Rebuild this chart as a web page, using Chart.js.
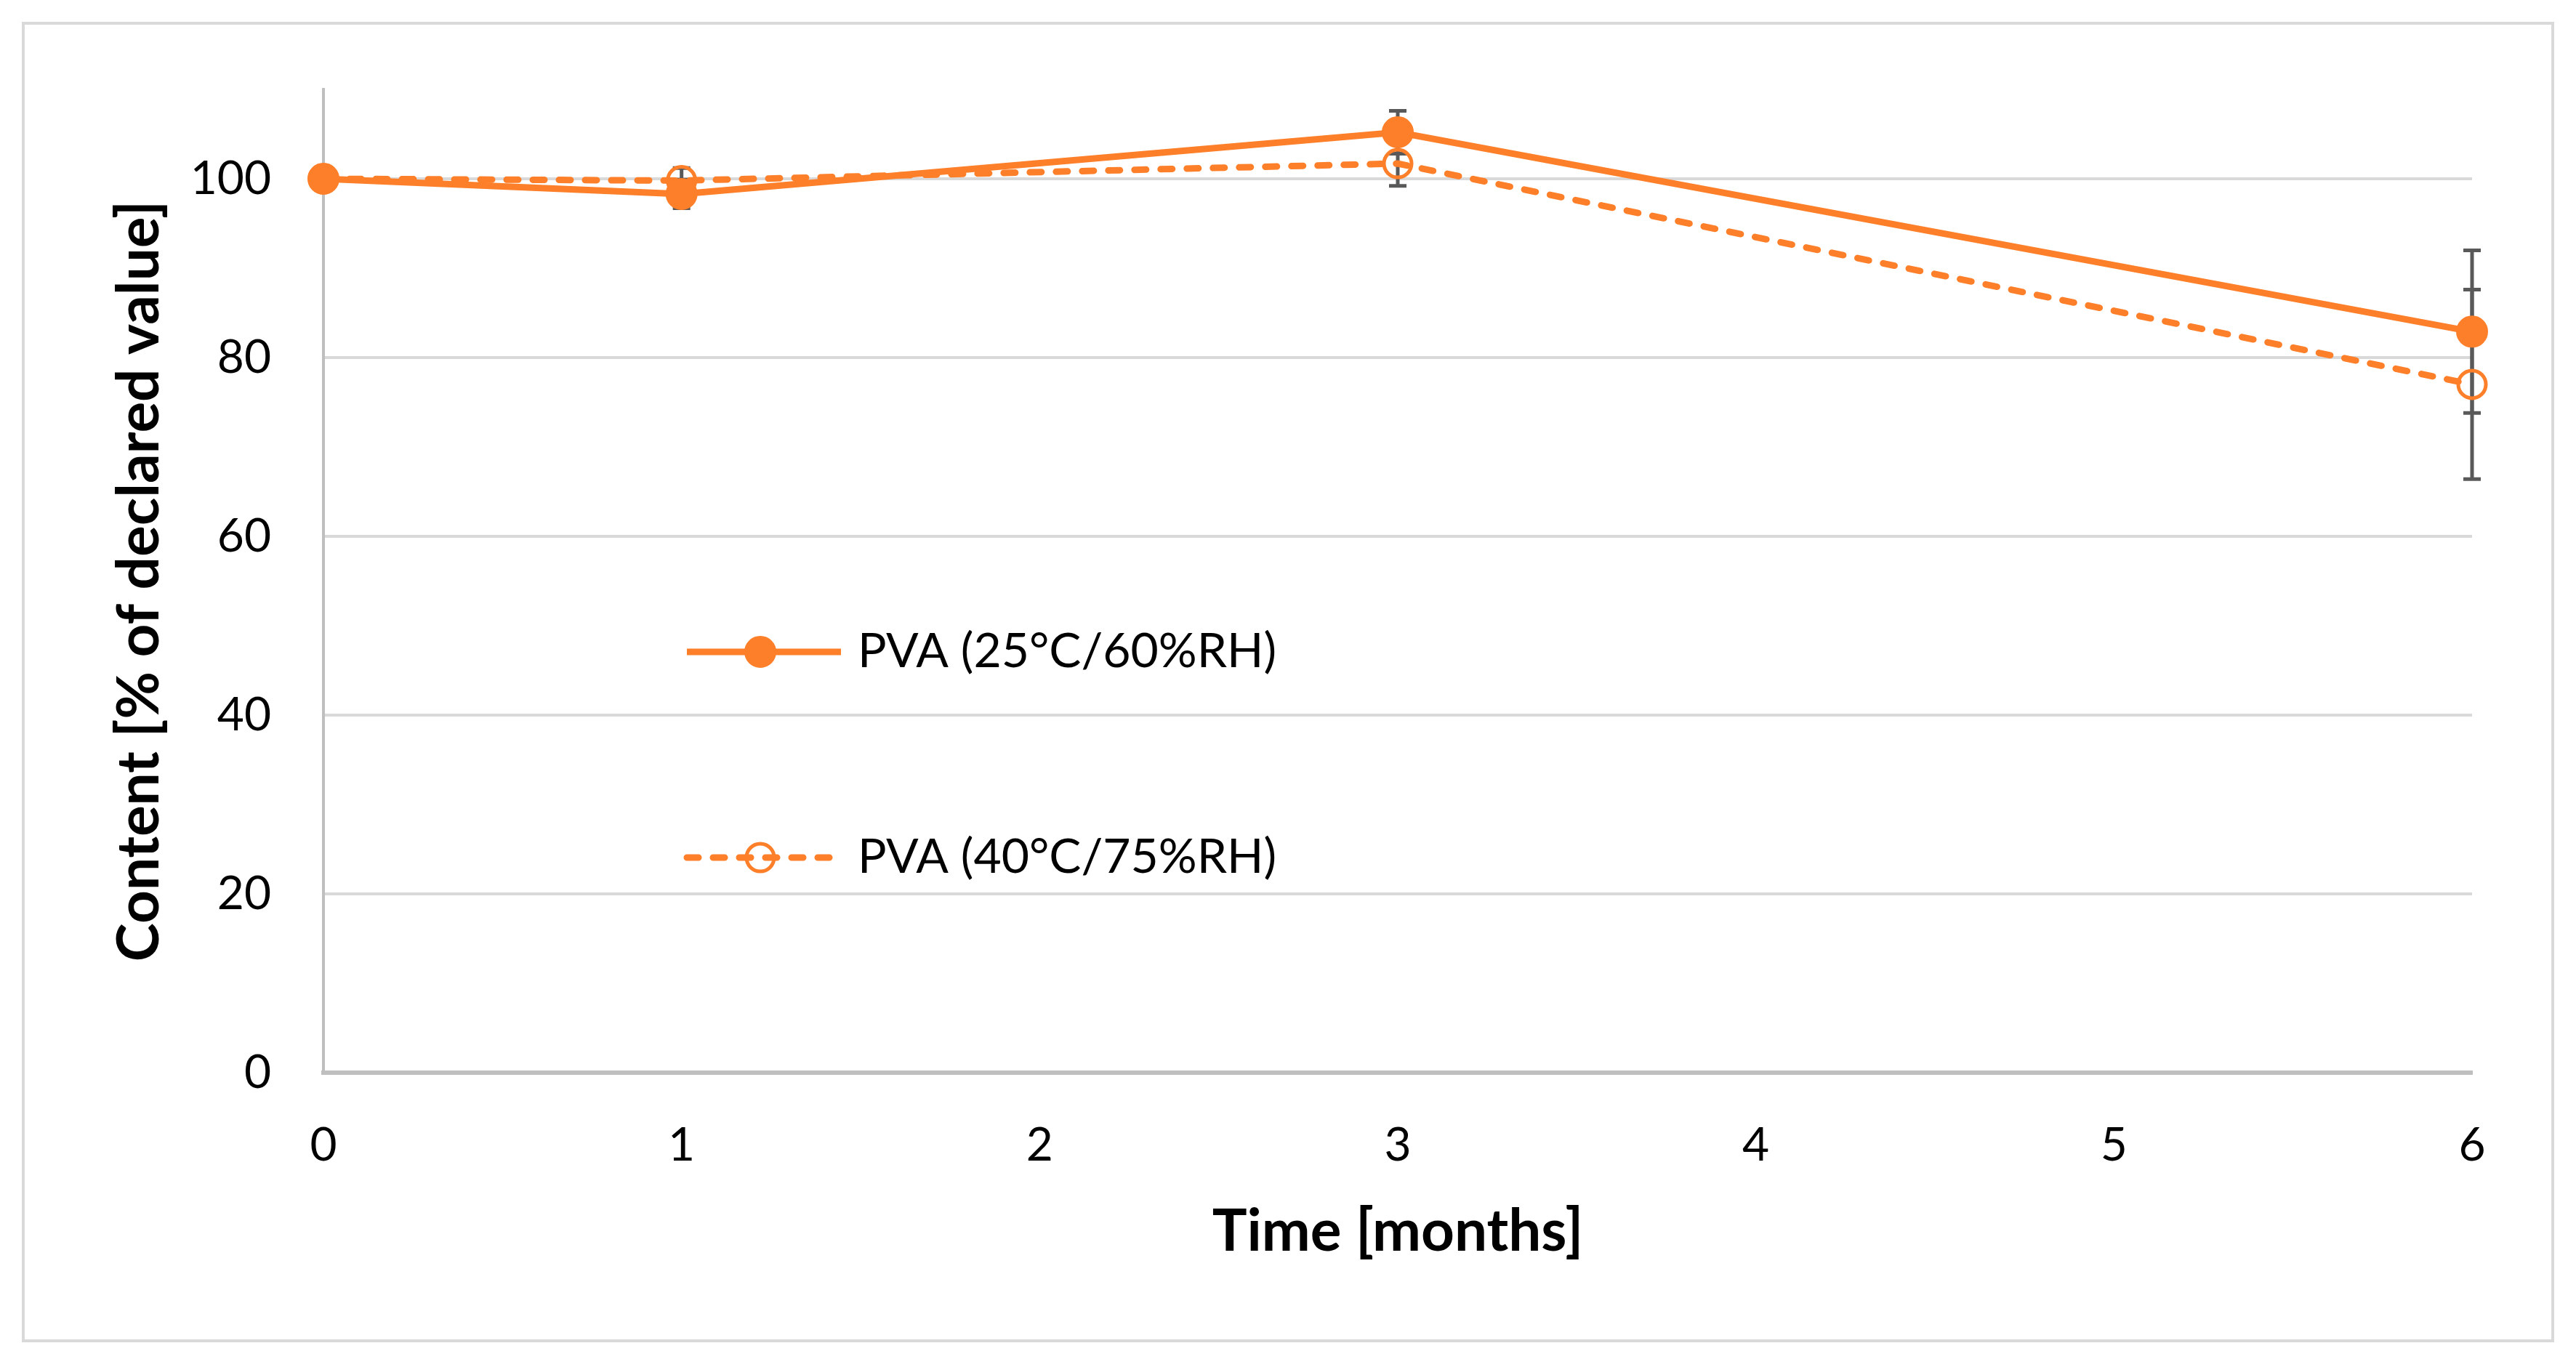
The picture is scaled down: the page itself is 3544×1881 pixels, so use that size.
<!DOCTYPE html>
<html>
<head>
<meta charset="utf-8">
<script src="https://cdn.jsdelivr.net/npm/chart.js@4.4.1/dist/chart.umd.min.js"></script>
<style>
  html, body { margin: 0; padding: 0; background: #ffffff; }
  canvas { display: block; }
</style>
</head>
<body>
<canvas id="c" width="3544" height="1881"></canvas>
<script>
// ---- data ----
const months = [0, 1, 3, 6];
const xTicks = [0, 1, 2, 3, 4, 5, 6];
const yTicks = [0, 20, 40, 60, 80, 100];
const seriesNames = ['PVA (25°C/60%RH)', 'PVA (40°C/75%RH)'];
const pva25 = [100, 98.3, 105.2, 82.9];
const pva25Err = [0, 1.6, 2.4, 9.1];
const pva40 = [100, 99.8, 101.7, 77.0];
const pva40Err = [0, 1.4, 2.5, 10.6];

const ORANGE = '#FE7F29';
const errs = [pva25Err, pva40Err];

const errorBars = {
  id: 'errorBars',
  beforeDatasetsDraw(chart) {
    const {ctx, scales: {x, y}} = chart;
    ctx.save();
    ctx.strokeStyle = '#595959';
    ctx.lineWidth = 5;
    ctx.lineCap = 'butt';
    chart.data.datasets.forEach((ds, di) => {
      ds.data.forEach((p, i) => {
        const e = errs[di][i];
        if (!e) return;
        const px = x.getPixelForValue(p.x);
        const yt = y.getPixelForValue(p.y + e);
        const yb = y.getPixelForValue(p.y - e);
        ctx.beginPath();
        ctx.moveTo(px, yt); ctx.lineTo(px, yb);
        ctx.moveTo(px - 12, yt); ctx.lineTo(px + 12, yt);
        ctx.moveTo(px - 12, yb); ctx.lineTo(px + 12, yb);
        ctx.stroke();
      });
    });
    ctx.restore();
  }
};

const frameAndLegend = {
  id: 'frameAndLegend',
  beforeDraw(chart) {
    const ctx = chart.ctx;
    ctx.save();
    ctx.fillStyle = '#ffffff';
    ctx.fillRect(0, 0, chart.width, chart.height);
    ctx.strokeStyle = '#D9D9D9';
    ctx.lineWidth = 4;
    ctx.strokeRect(32, 32, 3480, 1813);
    ctx.restore();
  },
  afterDraw(chart) {
    const ctx = chart.ctx;
    ctx.save();
    const rows = [897, 1180];
    chart.data.datasets.forEach((ds, i) => {
      const yy = rows[i];
      ctx.strokeStyle = ds.borderColor;
      ctx.lineWidth = ds.borderWidth;
      ctx.lineCap = ds.borderCapStyle || 'butt';
      ctx.setLineDash(ds.borderDash || []);
      ctx.beginPath();
      ctx.moveTo(945, yy); ctx.lineTo(1157, yy);
      ctx.stroke();
      ctx.setLineDash([]);
      ctx.beginPath();
      ctx.arc(1046, yy, ds.pointRadius, 0, Math.PI * 2);
      if (ds.pointBackgroundColor !== 'rgba(0,0,0,0)') {
        ctx.fillStyle = ds.pointBackgroundColor;
        ctx.fill();
      }
      ctx.lineWidth = ds.pointBorderWidth;
      ctx.strokeStyle = ds.pointBorderColor;
      ctx.stroke();
      ctx.fillStyle = '#000000';
      ctx.font = '66px Lato';
      ctx.textBaseline = 'middle';
      ctx.textAlign = 'left';
      ctx.fillText(ds.label, 1180, yy);
    });
    ctx.restore();
  }
};

new Chart(document.getElementById('c'), {
  type: 'line',
  data: {
    datasets: [
      {
        label: seriesNames[0],
        data: months.map((m, i) => ({x: m, y: pva25[i]})),
        borderColor: ORANGE,
        borderWidth: 9,
        pointRadius: 20,
        pointBackgroundColor: ORANGE,
        pointBorderColor: ORANGE,
        pointBorderWidth: 4,
        clip: false,
        tension: 0
      },
      {
        label: seriesNames[1],
        data: months.map((m, i) => ({x: m, y: pva40[i]})),
        borderColor: ORANGE,
        borderWidth: 9,
        borderDash: [16, 20],
        borderCapStyle: 'round',
        pointRadius: 19,
        pointBackgroundColor: 'rgba(0,0,0,0)',
        pointBorderColor: ORANGE,
        pointBorderWidth: 5,
        clip: false,
        tension: 0
      }
    ]
  },
  options: {
    responsive: false,
    devicePixelRatio: 1,
    animation: false,
    events: [],
    layout: { padding: { left: 0, right: 143, top: 123, bottom: 0 } },
    plugins: { legend: { display: false }, tooltip: { enabled: false } },
    scales: {
      x: {
        type: 'linear',
        min: 0, max: 6,
        afterBuildTicks(axis) { axis.ticks = xTicks.map(v => ({value: v})); },
        afterFit(scale) { scale.height = 405; },
        grid: { display: false, drawTicks: false },
        border: { display: true, color: '#BFBFBF', width: 6 },
        ticks: { padding: 62, color: '#000000', font: { family: 'Lato', size: 64 } },
        title: {
          display: true, text: 'Time [months]', color: '#000000',
          font: { family: 'Lato', size: 80, weight: 'bold' },
          padding: { top: 0, bottom: 138 }
        }
      },
      y: {
        type: 'linear',
        min: 0, max: 110,
        afterBuildTicks(axis) { axis.ticks = yTicks.map(v => ({value: v})); },
        afterFit(scale) { scale.width = 445; },
        grid: { color: '#D9D9D9', lineWidth: 4, drawTicks: false },
        border: { display: true, color: '#BFBFBF', width: 4 },
        ticks: { padding: 72, color: '#000000', font: { family: 'Lato', size: 64 } },
        title: {
          display: true, text: 'Content [% of declared value]', color: '#000000',
          font: { family: 'Lato', size: 80, weight: 'bold' },
          padding: { top: 144, bottom: 0 }
        }
      }
    }
  },
  plugins: [errorBars, frameAndLegend]
});
</script>
</body>
</html>
